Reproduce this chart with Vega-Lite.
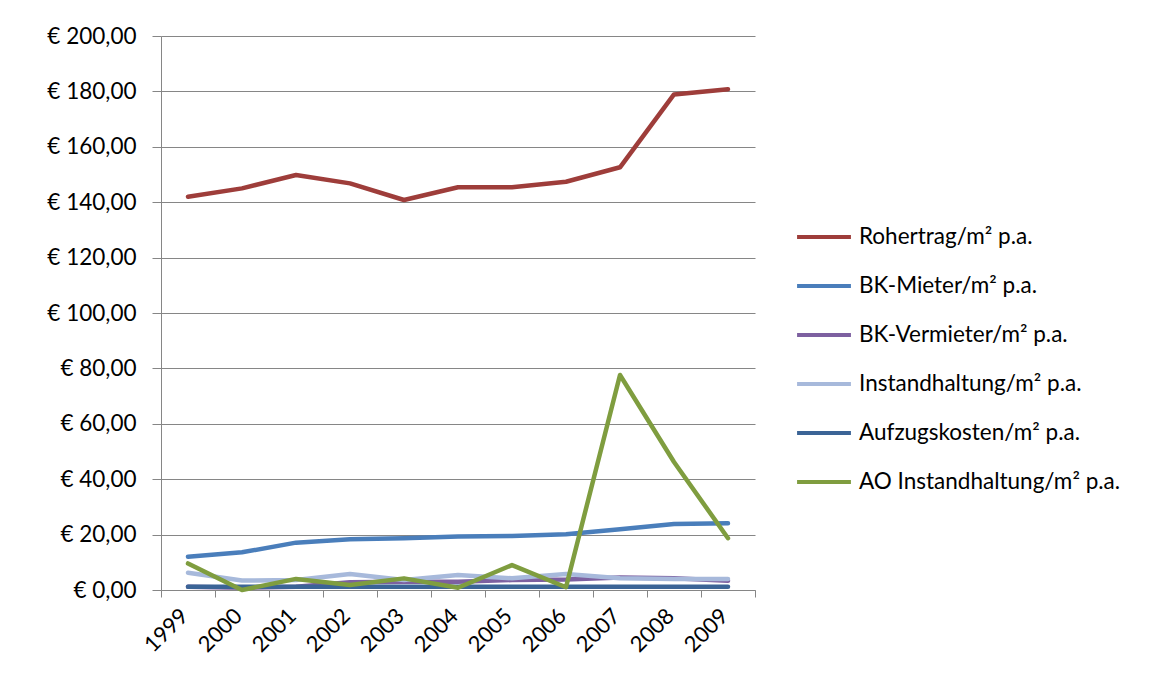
{
  "$schema": "https://vega.github.io/schema/vega-lite/v6.json",
  "width": 594,
  "height": 554,
  "autosize": {"type": "none"},
  "padding": {"left": 161, "top": 36, "right": 408, "bottom": 110},
  "background": "white",
  "config": {
    "font": "Lato",
    "view": {"stroke": null}
  },
  "datasets": {
    "series": [
      {"year": "1999", "s": "Rohertrag/m² p.a.", "v": 142.0},
      {"year": "2000", "s": "Rohertrag/m² p.a.", "v": 145.0},
      {"year": "2001", "s": "Rohertrag/m² p.a.", "v": 149.8},
      {"year": "2002", "s": "Rohertrag/m² p.a.", "v": 146.8},
      {"year": "2003", "s": "Rohertrag/m² p.a.", "v": 140.8},
      {"year": "2004", "s": "Rohertrag/m² p.a.", "v": 145.4},
      {"year": "2005", "s": "Rohertrag/m² p.a.", "v": 145.4},
      {"year": "2006", "s": "Rohertrag/m² p.a.", "v": 147.4},
      {"year": "2007", "s": "Rohertrag/m² p.a.", "v": 152.6},
      {"year": "2008", "s": "Rohertrag/m² p.a.", "v": 178.9},
      {"year": "2009", "s": "Rohertrag/m² p.a.", "v": 180.8},
      {"year": "1999", "s": "BK-Mieter/m² p.a.", "v": 12.0},
      {"year": "2000", "s": "BK-Mieter/m² p.a.", "v": 13.6},
      {"year": "2001", "s": "BK-Mieter/m² p.a.", "v": 17.1},
      {"year": "2002", "s": "BK-Mieter/m² p.a.", "v": 18.3},
      {"year": "2003", "s": "BK-Mieter/m² p.a.", "v": 18.7},
      {"year": "2004", "s": "BK-Mieter/m² p.a.", "v": 19.3},
      {"year": "2005", "s": "BK-Mieter/m² p.a.", "v": 19.5},
      {"year": "2006", "s": "BK-Mieter/m² p.a.", "v": 20.1},
      {"year": "2007", "s": "BK-Mieter/m² p.a.", "v": 21.9},
      {"year": "2008", "s": "BK-Mieter/m² p.a.", "v": 23.8},
      {"year": "2009", "s": "BK-Mieter/m² p.a.", "v": 24.1},
      {"year": "1999", "s": "BK-Vermieter/m² p.a.", "v": 1.2},
      {"year": "2000", "s": "BK-Vermieter/m² p.a.", "v": 0.8},
      {"year": "2001", "s": "BK-Vermieter/m² p.a.", "v": 1.2},
      {"year": "2002", "s": "BK-Vermieter/m² p.a.", "v": 2.8},
      {"year": "2003", "s": "BK-Vermieter/m² p.a.", "v": 3.0},
      {"year": "2004", "s": "BK-Vermieter/m² p.a.", "v": 3.0},
      {"year": "2005", "s": "BK-Vermieter/m² p.a.", "v": 3.6},
      {"year": "2006", "s": "BK-Vermieter/m² p.a.", "v": 3.8},
      {"year": "2007", "s": "BK-Vermieter/m² p.a.", "v": 4.5},
      {"year": "2008", "s": "BK-Vermieter/m² p.a.", "v": 4.2},
      {"year": "2009", "s": "BK-Vermieter/m² p.a.", "v": 3.3},
      {"year": "1999", "s": "Instandhaltung/m² p.a.", "v": 6.2},
      {"year": "2000", "s": "Instandhaltung/m² p.a.", "v": 3.4},
      {"year": "2001", "s": "Instandhaltung/m² p.a.", "v": 3.6},
      {"year": "2002", "s": "Instandhaltung/m² p.a.", "v": 5.8},
      {"year": "2003", "s": "Instandhaltung/m² p.a.", "v": 3.6},
      {"year": "2004", "s": "Instandhaltung/m² p.a.", "v": 5.4},
      {"year": "2005", "s": "Instandhaltung/m² p.a.", "v": 4.2},
      {"year": "2006", "s": "Instandhaltung/m² p.a.", "v": 5.8},
      {"year": "2007", "s": "Instandhaltung/m² p.a.", "v": 4.2},
      {"year": "2008", "s": "Instandhaltung/m² p.a.", "v": 4.0},
      {"year": "2009", "s": "Instandhaltung/m² p.a.", "v": 4.0},
      {"year": "1999", "s": "Aufzugskosten/m² p.a.", "v": 1.2},
      {"year": "2000", "s": "Aufzugskosten/m² p.a.", "v": 1.2},
      {"year": "2001", "s": "Aufzugskosten/m² p.a.", "v": 1.2},
      {"year": "2002", "s": "Aufzugskosten/m² p.a.", "v": 1.2},
      {"year": "2003", "s": "Aufzugskosten/m² p.a.", "v": 1.2},
      {"year": "2004", "s": "Aufzugskosten/m² p.a.", "v": 1.2},
      {"year": "2005", "s": "Aufzugskosten/m² p.a.", "v": 1.2},
      {"year": "2006", "s": "Aufzugskosten/m² p.a.", "v": 1.2},
      {"year": "2007", "s": "Aufzugskosten/m² p.a.", "v": 1.2},
      {"year": "2008", "s": "Aufzugskosten/m² p.a.", "v": 1.2},
      {"year": "2009", "s": "Aufzugskosten/m² p.a.", "v": 1.2},
      {"year": "1999", "s": "AO Instandhaltung/m² p.a.", "v": 9.6},
      {"year": "2000", "s": "AO Instandhaltung/m² p.a.", "v": 0.0},
      {"year": "2001", "s": "AO Instandhaltung/m² p.a.", "v": 4.0},
      {"year": "2002", "s": "AO Instandhaltung/m² p.a.", "v": 1.8},
      {"year": "2003", "s": "AO Instandhaltung/m² p.a.", "v": 4.2},
      {"year": "2004", "s": "AO Instandhaltung/m² p.a.", "v": 0.8},
      {"year": "2005", "s": "AO Instandhaltung/m² p.a.", "v": 9.0},
      {"year": "2006", "s": "AO Instandhaltung/m² p.a.", "v": 1.0},
      {"year": "2007", "s": "AO Instandhaltung/m² p.a.", "v": 77.6},
      {"year": "2008", "s": "AO Instandhaltung/m² p.a.", "v": 46.2},
      {"year": "2009", "s": "AO Instandhaltung/m² p.a.", "v": 18.7}
    ]
  },
  "data": {"name": "series"},
  "mark": {"type": "line", "strokeWidth": 4.5, "strokeCap": "round", "strokeJoin": "round"},
  "encoding": {
    "x": {
      "field": "year",
      "type": "ordinal",
      "scale": {"type": "band", "paddingInner": 0, "paddingOuter": 0},
      "axis": {
        "title": null,
        "tickBand": "extent",
        "labelAngle": -45,
        "labelAlign": "right",
        "labelBaseline": "middle",
        "labelFontSize": 22,
        "labelColor": "#000000",
        "labelPadding": 15,
        "labelOffset": -4,
        "domainColor": "#868686",
        "tickColor": "#868686",
        "tickSize": 7,
        "grid": false
      }
    },
    "y": {
      "field": "v",
      "type": "quantitative",
      "scale": {"domain": [0, 200], "nice": false},
      "axis": {
        "title": null,
        "values": [0, 20, 40, 60, 80, 100, 120, 140, 160, 180, 200],
        "labelExpr": "'€ ' + replace(format(datum.value, '.2f'), '.', ',')",
        "labelFontSize": 22.5,
        "labelColor": "#000000",
        "labelPadding": 16,
        "tickSize": 9,
        "tickColor": "#868686",
        "domainColor": "#868686",
        "grid": true,
        "gridColor": "#868686",
        "gridOpacity": 1,
        "gridWidth": 1.2
      }
    },
    "color": {
      "field": "s",
      "type": "nominal",
      "sort": null,
      "scale": {
        "domain": ["Rohertrag/m² p.a.", "BK-Mieter/m² p.a.", "BK-Vermieter/m² p.a.", "Instandhaltung/m² p.a.", "Aufzugskosten/m² p.a.", "AO Instandhaltung/m² p.a."],
        "range": ["#9E3D3A", "#4A7EBB", "#7D60A0", "#A7B9DB", "#3B6496", "#7F9D3F"]
      },
      "legend": {
        "title": null,
        "orient": "none",
        "legendX": 634,
        "legendY": 172,
        "symbolType": "stroke",
        "symbolSize": 2900,
        "symbolStrokeWidth": 4,
        "labelFontSize": 22.5,
        "labelColor": "#000000",
        "labelOffset": 6,
        "rowPadding": 8,
        "labelLimit": 400
      }
    }
  }
}
